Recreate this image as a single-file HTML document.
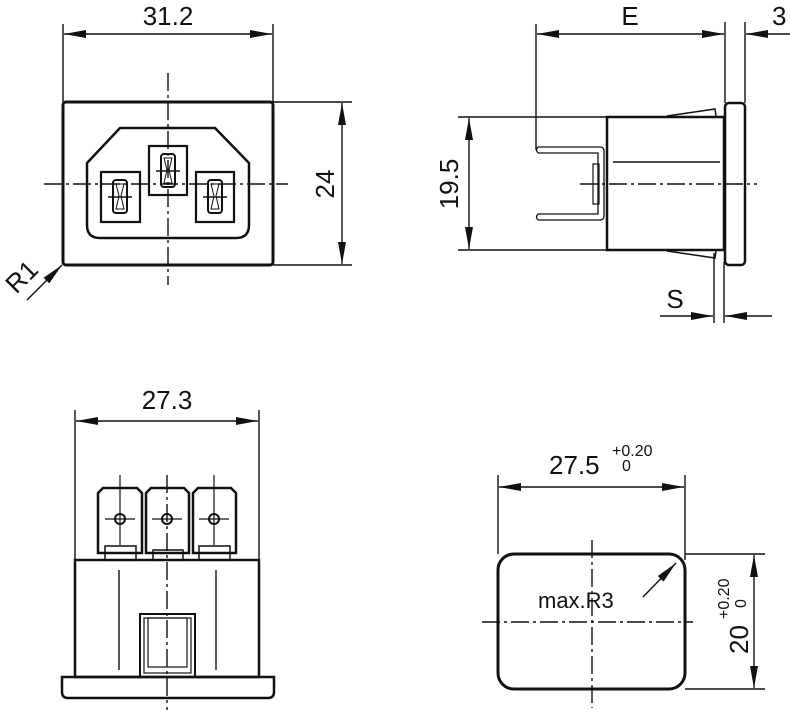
<!DOCTYPE html>
<html><head><meta charset="utf-8"><style>
html,body{margin:0;padding:0;background:#fff;}
svg{display:block;}
text{font-family:"Liberation Sans",sans-serif;fill:#111;}
</style></head><body>
<svg width="790" height="710" viewBox="0 0 790 710" xmlns="http://www.w3.org/2000/svg">
<defs>
<marker id="a" viewBox="0 0 22 8" refX="22" refY="4" markerWidth="22" markerHeight="8" markerUnits="userSpaceOnUse" orient="auto-start-reverse">
<path d="M0,0 L22,4 L0,8 Z" fill="#111"/></marker>
</defs>
<g stroke="#111" fill="none" stroke-width="1.4">
<line x1="63" y1="24" x2="63" y2="102"/><line x1="273" y1="24" x2="273" y2="102"/>
<line x1="64" y1="34" x2="272" y2="34" marker-start="url(#a)" marker-end="url(#a)"/>
<rect x="63" y="102" width="210" height="163" rx="3" stroke-width="3"/>
<path d="M120,128 L215,128 L249,163 L249,225 Q249,238 236,238 L100,238 Q87,238 87,225 L87,163 Z" stroke-width="2.5"/>
<rect x="101" y="172" width="39" height="50" stroke-width="2.2"/>
<rect x="149" y="146" width="38" height="49" stroke-width="2.2"/>
<rect x="196" y="172" width="38" height="50" stroke-width="2.2"/>
<rect x="113" y="180" width="14" height="33" rx="3" stroke-width="2"/>
<rect x="161" y="154" width="14" height="33" rx="3" stroke-width="2"/>
<rect x="208" y="180" width="14" height="33" rx="3" stroke-width="2"/>
<path d="M116,184 L124,184 L121,196 L124,209 L116,209 L119,196 Z M164,158 L172,158 L169,170 L172,183 L164,183 L167,170 Z M211,184 L219,184 L216,196 L219,209 L211,209 L214,196 Z" stroke-width="1"/>
<line x1="108" y1="197" x2="132" y2="197"/><line x1="156" y1="171" x2="180" y2="171"/><line x1="203" y1="197" x2="227" y2="197"/>
<line x1="168" y1="73" x2="168" y2="285" stroke-dasharray="18,4,3,4"/>
<line x1="44" y1="184" x2="288" y2="184" stroke-dasharray="18,4,3,4"/>
<line x1="273" y1="102" x2="352" y2="102"/><line x1="273" y1="265" x2="352" y2="265"/>
<line x1="342" y1="103" x2="342" y2="264" marker-start="url(#a)" marker-end="url(#a)"/>
<line x1="27" y1="300" x2="62" y2="265" marker-end="url(#a)"/>

<line x1="536" y1="24" x2="536" y2="150"/><line x1="725" y1="22" x2="725" y2="103"/>
<line x1="745" y1="22" x2="745" y2="103"/>
<line x1="537" y1="34" x2="724" y2="34" marker-start="url(#a)" marker-end="url(#a)"/>
<line x1="790" y1="34" x2="746" y2="34" marker-end="url(#a)"/>
<rect x="607" y="117" width="117" height="133" stroke-width="2.5"/>
<rect x="725" y="103" width="20" height="162" rx="4" stroke-width="2.5"/>
<path d="M667,116 L715,109 L716,116 M667,251 L715,258 L716,251" stroke-width="1.5"/>
<line x1="458" y1="117" x2="607" y2="117"/><line x1="458" y1="250" x2="607" y2="250"/>
<line x1="469" y1="118" x2="469" y2="249" marker-start="url(#a)" marker-end="url(#a)"/>
<path d="M538,147 L600,147 Q604,147 604,151 L604,216 Q604,220 600,220 L538,220 M538,153 L598,153 L598,214 L538,214" stroke-width="1.3"/>
<path d="M538,147 Q535,150 538,153 M538,214 Q535,217 538,220" stroke-width="1.3"/>
<rect x="593" y="164" width="6" height="40" stroke-width="1.2"/>
<line x1="613" y1="162" x2="720" y2="162" stroke-width="1.5"/>
<line x1="580" y1="184" x2="757" y2="184" stroke-dasharray="18,4,3,4"/>
<line x1="714" y1="253" x2="714" y2="323"/><line x1="724" y1="262" x2="724" y2="323"/>
<line x1="660" y1="316" x2="713" y2="316" marker-end="url(#a)"/>
<line x1="772" y1="316" x2="725" y2="316" marker-end="url(#a)"/>

<line x1="75" y1="410" x2="75" y2="560"/><line x1="259" y1="410" x2="259" y2="560"/>
<line x1="76" y1="421" x2="258" y2="421" marker-start="url(#a)" marker-end="url(#a)"/>
<rect x="75" y="560" width="184" height="117" stroke-width="2.5"/>
<path d="M62,677 L274,677 L274,692 Q274,698 268,698 L68,698 Q62,698 62,692 Z" stroke-width="2.5"/>
<path d="M98,553 L98,493 L103,488 L137,488 L142,493 L142,553 Z" stroke-width="2.5"/>
<path d="M146,553 L146,493 L151,488 L184,488 L189,493 L189,553 Z" stroke-width="2.5"/>
<path d="M193,553 L193,493 L198,488 L231,488 L236,493 L236,553 Z" stroke-width="2.5"/>
<rect x="105" y="546" width="31" height="14" stroke-width="1.5"/>
<rect x="153" y="550" width="30" height="10" stroke-width="1.5"/>
<rect x="199" y="546" width="31" height="14" stroke-width="1.5"/>
<circle cx="120" cy="519" r="5" stroke-width="2"/><circle cx="167" cy="519" r="5" stroke-width="2"/><circle cx="214" cy="519" r="5" stroke-width="2"/>
<path d="M105,519 L135,519 M120,475 L120,545 M152,519 L182,519 M199,519 L229,519 M214,475 L214,545" stroke-width="1.2"/>
<line x1="167" y1="475" x2="167" y2="710" stroke-dasharray="18,4,3,4"/>
<line x1="119" y1="570" x2="119" y2="670"/><line x1="216" y1="570" x2="216" y2="670"/>
<rect x="140" y="614" width="55" height="63" stroke-width="2"/>
<rect x="144" y="618" width="47" height="55" stroke-width="1.2"/>
<rect x="148" y="618" width="39" height="49" stroke-width="1.2"/>

<line x1="498" y1="475" x2="498" y2="554"/><line x1="685" y1="475" x2="685" y2="560"/>
<line x1="499" y1="487" x2="684" y2="487" marker-start="url(#a)" marker-end="url(#a)"/>
<rect x="498" y="554" width="187" height="135" rx="16" stroke-width="3"/>
<line x1="685" y1="554" x2="765" y2="554"/><line x1="685" y1="689" x2="765" y2="689"/>
<line x1="754" y1="555" x2="754" y2="688" marker-start="url(#a)" marker-end="url(#a)"/>
<line x1="592" y1="540" x2="592" y2="708" stroke-dasharray="18,4,3,4"/>
<line x1="482" y1="622" x2="693" y2="622" stroke-dasharray="18,4,3,4"/>
<line x1="643" y1="597" x2="676" y2="563" marker-end="url(#a)"/>
</g>
<g font-size="26">
<text x="168" y="25" text-anchor="middle">31.2</text>
<text transform="translate(334,184) rotate(-90)" text-anchor="middle">24</text>
<text transform="translate(28,283) rotate(-45)" text-anchor="middle">R1</text>
<text x="630" y="25" text-anchor="middle">E</text>
<text x="772" y="25">3</text>
<text transform="translate(458,184) rotate(-90)" text-anchor="middle">19.5</text>
<text x="675" y="308" text-anchor="middle">S</text>
<text x="167" y="409" text-anchor="middle">27.3</text>
<text x="549" y="474">27.5</text>
<text x="538" y="608" font-size="22">max.R3</text>
<text transform="translate(748,654) rotate(-90)">20</text>
</g>
<g font-size="16">
<text x="612" y="456">+0.20</text>
<text x="622" y="471">0</text>
<text transform="translate(729,619) rotate(-90)">+0.20</text>
<text transform="translate(746,608) rotate(-90)">0</text>
</g>
</svg>
</body></html>
